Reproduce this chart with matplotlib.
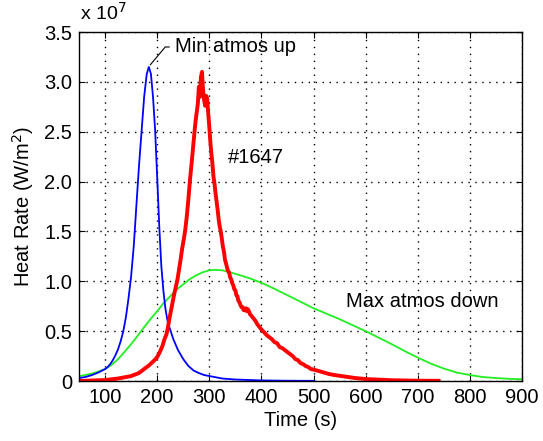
#!/usr/bin/env python3

# Heat rate vs time: flight data #1647 against min/max atmosphere predictions

import matplotlib
matplotlib.use("Agg")
import matplotlib.pyplot as plt
from matplotlib.ticker import FuncFormatter

plt.rcParams['font.family'] = ['Liberation Sans', 'DejaVu Sans']

# heat rate values are in units of 1e7 W/m^2
min_up_t = [50, 62, 75, 87, 100, 105, 110, 115, 120, 125, 130, 135, 140, 145,
            150, 155, 160, 165, 170, 175, 180, 184, 188, 192, 196, 200, 204,
            208, 212, 216, 220, 224, 231, 240, 250, 260, 270, 280, 290, 300,
            325, 350, 400, 450, 500]
min_up_q = [0.03, 0.04, 0.06, 0.085, 0.12, 0.14, 0.17, 0.21, 0.26, 0.32, 0.40,
            0.50, 0.64, 0.83, 1.05, 1.35, 1.75, 2.15, 2.50, 2.85, 3.08, 3.15,
            3.08, 2.85, 2.52, 2.05, 1.55, 1.15, 0.90, 0.72, 0.60, 0.53, 0.42,
            0.31, 0.22, 0.15, 0.105, 0.08, 0.06, 0.05, 0.025, 0.015, 0.006,
            0.003, 0.002]

max_down_t = [50, 62, 75, 87, 100, 112, 125, 137, 150, 162, 175, 187, 200, 212,
              225, 237, 250, 262, 275, 287, 300, 312, 325, 337, 350, 375, 400,
              425, 450, 475, 500, 525, 550, 575, 600, 625, 650, 675, 700, 725,
              750, 775, 800, 825, 850, 875, 900]
max_down_q = [0.05, 0.06, 0.075, 0.095, 0.12, 0.16, 0.22, 0.29, 0.37, 0.45,
              0.54, 0.62, 0.70, 0.78, 0.85, 0.915, 0.97, 1.02, 1.06, 1.09, 1.11,
              1.115, 1.11, 1.095, 1.075, 1.035, 0.985, 0.925, 0.86, 0.795, 0.73,
              0.675, 0.62, 0.56, 0.50, 0.435, 0.37, 0.30, 0.235, 0.175, 0.125,
              0.085, 0.06, 0.04, 0.03, 0.022, 0.018]

flight_t = [50, 75, 100, 125, 150, 165, 175, 185, 195, 200, 205, 210, 214, 218,
            221, 224, 227, 230, 233, 236, 239, 242, 245, 248, 251, 254, 257,
            260, 263, 266, 269, 272, 274, 276, 278, 280, 282, 284, 286, 288,
            290, 292, 294, 296, 298, 300, 302, 304, 306, 308, 310, 312, 314,
            316, 318, 320, 322, 324, 326, 328, 330, 333, 336, 338, 340, 342,
            344, 346, 348, 350, 352, 354, 356, 358, 360, 362, 364, 366, 368,
            370, 372, 374, 376, 378, 380, 383, 386, 389, 392, 395, 398, 401,
            405, 410, 415, 420, 425, 430, 435, 440, 445, 450, 455, 460, 465,
            470, 475, 480, 485, 490, 495, 500, 510, 520, 530, 540, 560, 580,
            600, 650, 700, 740]
flight_q = [0.00, 0.005, 0.01, 0.025, 0.05, 0.08, 0.12, 0.16, 0.21, 0.24, 0.29,
            0.35, 0.42, 0.47, 0.55, 0.64, 0.72, 0.80, 0.88, 0.95, 1.02, 1.12,
            1.22, 1.33, 1.42, 1.52, 1.66, 1.83, 2.02, 2.18, 2.35, 2.52, 2.62,
            2.70, 2.78, 2.95, 2.85, 3.05, 3.10, 2.92, 2.82, 2.76, 2.86, 2.83,
            2.68, 2.55, 2.40, 2.28, 2.18, 2.05, 1.98, 1.88, 1.80, 1.72, 1.62,
            1.55, 1.50, 1.43, 1.35, 1.30, 1.22, 1.16, 1.10, 1.09, 1.04, 1.02,
            0.98, 0.96, 0.92, 0.91, 0.86, 0.85, 0.80, 0.79, 0.76, 0.74, 0.74,
            0.71, 0.71, 0.73, 0.70, 0.72, 0.70, 0.67, 0.66, 0.64, 0.62, 0.60,
            0.57, 0.55, 0.53, 0.51, 0.49, 0.46, 0.44, 0.42, 0.39, 0.38, 0.34,
            0.33, 0.31, 0.29, 0.27, 0.25, 0.22, 0.21, 0.18, 0.17, 0.15, 0.14,
            0.12, 0.115, 0.10, 0.085, 0.07, 0.06, 0.045, 0.03, 0.02, 0.008,
            0.003, 0.002]

x_ticks = [100, 200, 300, 400, 500, 600, 700, 800, 900]
y_ticks = [0, 0.5, 1.0, 1.5, 2.0, 2.5, 3.0, 3.5]


def fmt_y(v, pos):
    return "0" if v == 0 else f"{v:.1f}"


fig = plt.figure(figsize=(5.43, 4.41), dpi=100)
ax = fig.add_axes([0.1455, 0.136, 0.8158, 0.7914])

ax.plot(max_down_t, max_down_q, color='#22ee22', lw=1.3)
ax.plot(min_up_t, min_up_q, color='#0000ff', lw=1.3)
ax.plot(flight_t, flight_q, color='#ff0000', lw=2.8)

ax.set_xlim(50, 900)
ax.set_ylim(0, 3.5)
ax.set_xticks(x_ticks)
ax.set_yticks(y_ticks)
ax.yaxis.set_major_formatter(FuncFormatter(fmt_y))
ax.tick_params(direction='in', top=True, right=True, labelsize=14.5, length=4,
               pad=5)
ax.grid(True, color='black', linestyle=(0, (1, 4)), lw=1.0)
for s in ax.spines.values():
    s.set_linewidth(1.0)

ax.set_xlabel("Time (s)", fontsize=14.5, labelpad=3)
ax.set_ylabel("Heat Rate (W/m$^2$)", fontsize=14.5, labelpad=6)
fig.text(0.147, 0.945, "x 10$^7$", fontsize=14, va='bottom')

ax.annotate("Min atmos up", xy=(185, 3.16), xytext=(234, 3.35),
            fontsize=14.5, va='center',
            arrowprops=dict(arrowstyle='-', color='black', lw=0.8,
                            shrinkA=2, shrinkB=1, relpos=(0, 0.5),
                            connectionstyle='angle,angleA=180,angleB=50,rad=0'))
ax.text(336, 2.24, "#1647", fontsize=14.5, va='center')
ax.text(563, 0.80, "Max atmos down", fontsize=14.5, va='center')

fig.savefig("out.png", dpi=100)
